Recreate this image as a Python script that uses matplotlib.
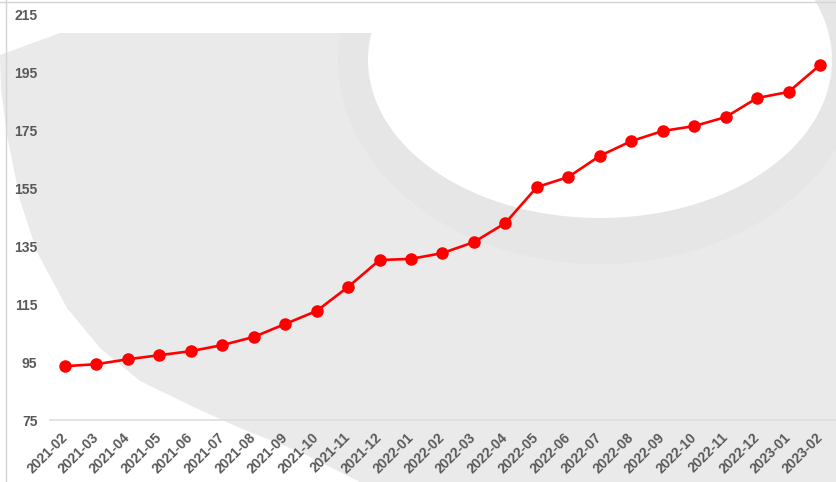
import matplotlib
matplotlib.use("Agg")
import matplotlib.pyplot as plt
from matplotlib.patches import Ellipse, Polygon
from matplotlib.lines import Line2D

# monthly index values
months = ["2021-02", "2021-03", "2021-04", "2021-05", "2021-06", "2021-07",
          "2021-08", "2021-09", "2021-10", "2021-11", "2021-12", "2022-01",
          "2022-02", "2022-03", "2022-04", "2022-05", "2022-06", "2022-07",
          "2022-08", "2022-09", "2022-10", "2022-11", "2022-12", "2023-01",
          "2023-02"]
values = [93.6, 94.3, 96.0, 97.4, 98.8, 100.9, 103.7, 108.2, 112.7, 121.0,
          130.3, 130.7, 132.7, 136.5, 143.1, 155.5, 159.0, 166.3, 171.4,
          174.9, 176.6, 179.7, 186.3, 188.4, 197.7]
yticks = [75, 95, 115, 135, 155, 175, 195, 215]

W, H = 836, 482
dpi = 100
fig = plt.figure(figsize=(W / dpi, H / dpi), dpi=dpi)
fig.patch.set_facecolor("white")

# background logo shape, drawn in pixel space on its own axes
bg = fig.add_axes([0, 0, 1, 1], zorder=0)
bg.set_xlim(0, W)
bg.set_ylim(H, 0)
bg.axis("off")

outline = [(60, 33), (780, 33), (800, 0), (W, 0), (W, H), (360, H),
           (300, 452), (240, 428), (200, 410), (140, 381), (100, 348),
           (67, 308), (37, 252), (20, 200), (7, 135), (1, 90), (0, 55)]
shape = Polygon(outline, closed=True, facecolor="#ebeaea", edgecolor="none")
bg.add_patch(shape)
ring = Ellipse((600, 60), 2 * 262, 2 * 204, facecolor="#e7e6e6",
               edgecolor="none")
bg.add_patch(ring)
ring.set_clip_path(shape)
bg.add_patch(Ellipse((600, 60), 2 * 232, 2 * 158, facecolor="white",
                     edgecolor="none"))

# frame lines of the panel
fig.add_artist(Line2D([6 / W, 6 / W], [0, 1], color="#d4d4d4", lw=1))
fig.add_artist(Line2D([0, 1], [1 - 1.5 / H, 1 - 1.5 / H], color="#d4d4d4", lw=1))

ax = fig.add_axes([50 / W, (H - 420) / H, (W - 50) / W, 405 / H], zorder=1)
ax.patch.set_alpha(0)

x = list(range(len(months)))
ax.plot(x, values, color="#ff0000", lw=1.9, marker="o", markersize=8,
        clip_on=False)

ax.set_xlim(-0.477, 24.509)
ax.set_ylim(75, 215)
ax.set_yticks(yticks)
ax.set_xticks(x)
ax.set_xticklabels(months, rotation=45, ha="right", va="center",
                   rotation_mode="anchor")

for sp in ["top", "right", "left"]:
    ax.spines[sp].set_visible(False)
ax.spines["bottom"].set_color("#dedede")
ax.spines["bottom"].set_linewidth(1.2)
ax.tick_params(axis="both", length=0, colors="#595959")
ax.tick_params(axis="y", pad=9)
ax.tick_params(axis="x", pad=11)
for lab in ax.get_xticklabels() + ax.get_yticklabels():
    lab.set_fontfamily("Liberation Sans")
    lab.set_fontweight("bold")
    lab.set_fontsize(10)

fig.savefig("out.png", dpi=dpi)
